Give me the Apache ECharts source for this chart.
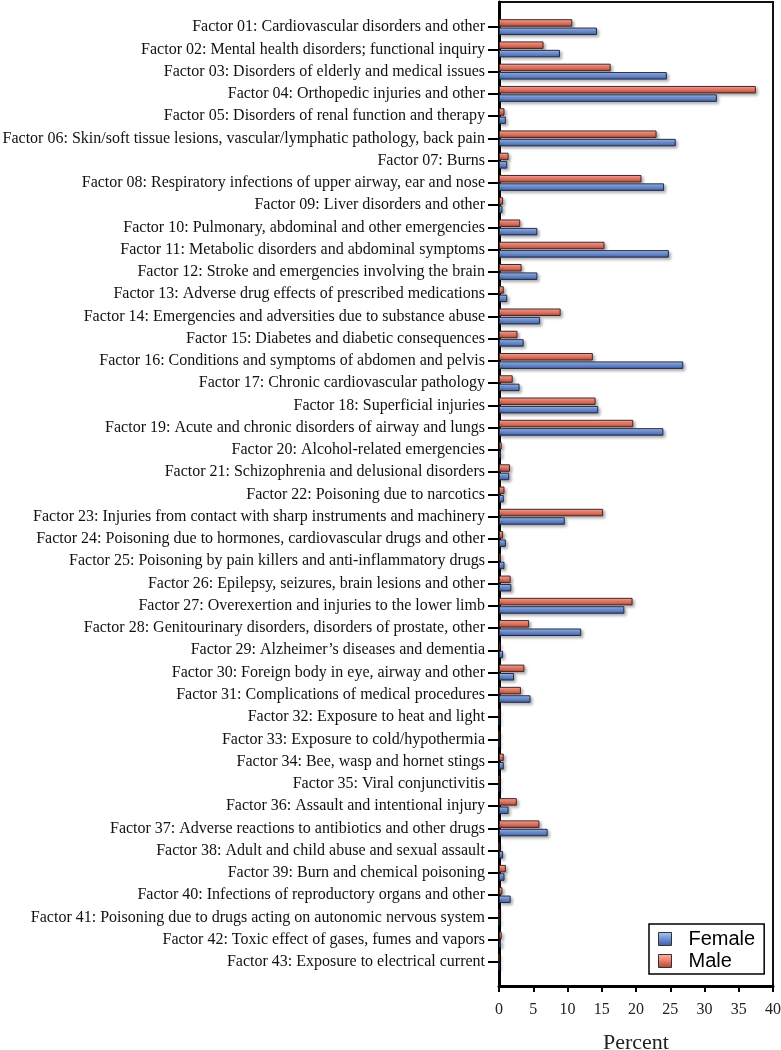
<!DOCTYPE html>
<html><head><meta charset="utf-8">
<script src="https://cdn.jsdelivr.net/npm/echarts@6/dist/echarts.min.js"></script>
<style>html,body{margin:0;padding:0;background:#fff}#c{width:781px;height:1050px}</style>
</head><body><div id="c"></div>
<script>
const categories = [
"Factor 01: Cardiovascular disorders and other",
"Factor 02: Mental health disorders; functional inquiry",
"Factor 03: Disorders of elderly and medical issues",
"Factor 04: Orthopedic injuries and other",
"Factor 05: Disorders of renal function and therapy",
"Factor 06: Skin/soft tissue lesions, vascular/lymphatic pathology, back pain",
"Factor 07: Burns",
"Factor 08: Respiratory infections of upper airway, ear and nose",
"Factor 09: Liver disorders and other",
"Factor 10: Pulmonary, abdominal and other emergencies",
"Factor 11: Metabolic disorders and abdominal symptoms",
"Factor 12: Stroke and emergencies involving the brain",
"Factor 13: Adverse drug effects of prescribed medications",
"Factor 14: Emergencies and adversities due to substance abuse",
"Factor 15: Diabetes and diabetic consequences",
"Factor 16: Conditions and symptoms of abdomen and pelvis",
"Factor 17: Chronic cardiovascular pathology",
"Factor 18: Superficial injuries",
"Factor 19: Acute and chronic disorders of airway and lungs",
"Factor 20: Alcohol-related emergencies",
"Factor 21: Schizophrenia and delusional disorders",
"Factor 22: Poisoning due to narcotics",
"Factor 23: Injuries from contact with sharp instruments and machinery",
"Factor 24: Poisoning due to hormones, cardiovascular drugs and other",
"Factor 25: Poisoning by pain killers and anti-inflammatory drugs",
"Factor 26: Epilepsy, seizures, brain lesions and other",
"Factor 27: Overexertion and injuries to the lower limb",
"Factor 28: Genitourinary disorders, disorders of prostate, other",
"Factor 29: Alzheimer\u2019s diseases and dementia",
"Factor 30: Foreign body in eye, airway and other",
"Factor 31: Complications of medical procedures",
"Factor 32: Exposure to heat and light",
"Factor 33: Exposure to cold/hypothermia",
"Factor 34: Bee, wasp and hornet stings",
"Factor 35: Viral conjunctivitis",
"Factor 36: Assault and intentional injury",
"Factor 37: Adverse reactions to antibiotics and other drugs",
"Factor 38: Adult and child abuse and sexual assault",
"Factor 39: Burn and chemical poisoning",
"Factor 40: Infections of reproductory organs and other",
"Factor 41: Poisoning due to drugs acting on autonomic nervous system",
"Factor 42: Toxic effect of gases, fumes and vapors",
"Factor 43: Exposure to electrical current"
];
const female = [14.3, 8.9, 24.5, 31.8, 1.0, 25.8, 1.2, 24.1, 0.5, 5.6, 24.8, 5.6, 1.2, 6.0, 3.6, 26.9, 3.0, 14.5, 24.0, 0.3, 1.5, 0.7, 9.6, 1.0, 0.8, 1.8, 18.3, 12.0, 0.6, 2.2, 4.6, 0, 0, 0.7, 0, 1.4, 7.1, 0.6, 0.8, 1.7, 0, 0.3, 0];
const male   = [10.7, 6.5, 16.3, 37.5, 0.8, 23.0, 1.4, 20.8, 0.6, 3.1, 15.4, 3.3, 0.7, 9.0, 2.7, 13.7, 2.0, 14.1, 19.6, 0.4, 1.6, 0.8, 15.2, 0.6, 0.3, 1.7, 19.5, 4.4, 0.2, 3.7, 3.2, 0, 0, 0.7, 0, 2.6, 5.9, 0, 1.0, 0.5, 0, 0.4, 0];
const xTicks = [0, 5, 10, 15, 20, 25, 30, 35, 40];

const grad = (a, b, c) => new echarts.graphic.LinearGradient(0, 0, 0, 1, [
  {offset: 0, color: a}, {offset: 0.45, color: b}, {offset: 1, color: c}]);
const maleColor = grad('#FFB8A8', '#F2806E', '#A84434');
const femaleColor = grad('#B0C8F4', '#7296DA', '#3E5A9C');

const chart = echarts.init(document.getElementById('c'));
const serif = '"Liberation Serif", "Times New Roman", serif';
chart.setOption({
  animation: false,
  legend: {
    orient: 'vertical', left: 649, top: 924,
    data: ['Female', 'Male'],
    backgroundColor: '#fff', borderColor: '#000', borderWidth: 1.5,
    padding: [5, 9, 3, 9], itemGap: 2,
    itemWidth: 13, itemHeight: 13, icon: 'rect',
    textStyle: {fontFamily: '"Liberation Sans", Arial, sans-serif', fontSize: 20, color: '#000', padding: [0, 0, 0, 12]},
    itemStyle: {borderColor: '#333', borderWidth: 1}
  },
  grid: [
    {left: 499, right: 8, top: 2, bottom: 64, show: true, borderColor: '#111', borderWidth: 2, backgroundColor: 'transparent', outerBoundsMode: 'none', containLabel: false},
    {left: 499, right: 8, top: 16, bottom: 77, outerBoundsMode: 'none', containLabel: false}
  ],
  xAxis: [
    {gridIndex: 0, type: 'value', min: 0, max: 40, interval: 5,
     axisLine: {show: true, lineStyle: {color: '#000', width: 3}},
     axisTick: {show: true, length: 6, lineStyle: {color: '#000', width: 2}},
     axisLabel: {fontFamily: serif, fontSize: 16, color: '#222', margin: 16,
       formatter: v => xTicks.includes(v) ? String(v) : ''},
     splitLine: {show: false},
     name: 'Percent', nameLocation: 'middle', nameGap: 46,
     nameTextStyle: {fontFamily: serif, fontSize: 22, color: '#222'}},
    {gridIndex: 1, type: 'value', min: 0, max: 40, show: false}
  ],
  yAxis: [
    {gridIndex: 0, type: 'value', min: 0, max: 1,
     axisLine: {show: true, lineStyle: {color: '#000', width: 3}},
     axisTick: {show: false}, axisLabel: {show: false}, splitLine: {show: false}},
    {gridIndex: 1, type: 'category', data: categories, inverse: true,
     axisLine: {show: false},
     axisTick: {show: true, alignWithLabel: true, length: 11, lineStyle: {color: '#000', width: 2}},
     axisLabel: {fontFamily: serif, fontSize: 16, color: '#111', margin: 14, interval: 0}}
  ],
  series: [
    {name: 'Male', type: 'bar', xAxisIndex: 1, yAxisIndex: 1, data: male,
     barWidth: 7.5, barGap: '12%',
     itemStyle: {color: maleColor, borderColor: '#4a2420', borderWidth: 1,
       shadowColor: 'rgba(0,0,0,0.3)', shadowBlur: 3, shadowOffsetX: 2, shadowOffsetY: 2}},
    {name: 'Female', type: 'bar', xAxisIndex: 1, yAxisIndex: 1, data: female,
     barWidth: 7.5, barGap: '12%',
     itemStyle: {color: femaleColor, borderColor: '#202a48', borderWidth: 1,
       shadowColor: 'rgba(0,0,0,0.3)', shadowBlur: 3, shadowOffsetX: 2, shadowOffsetY: 2}}
  ]
});
</script></body></html>
